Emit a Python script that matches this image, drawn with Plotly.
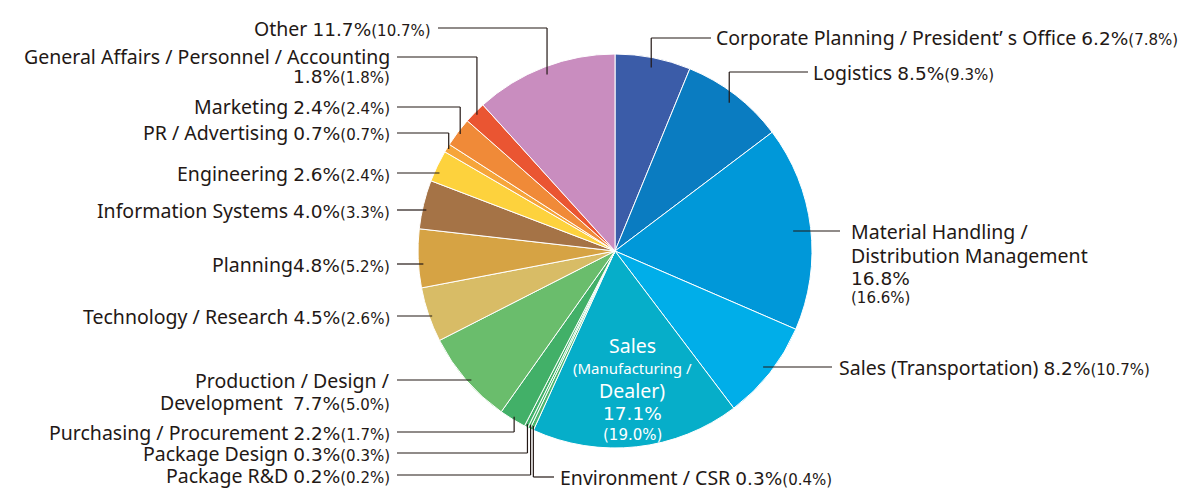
import math
import plotly.graph_objects as go

# ---------------- data ----------------
departments = [
    "Corporate Planning / President’ s Office", "Logistics",
    "Material Handling / Distribution Management", "Sales (Transportation)",
    "Sales (Manufacturing / Dealer)", "Environment / CSR", "Package R&D",
    "Package Design", "Purchasing / Procurement",
    "Production / Design / Development", "Technology / Research", "Planning",
    "Information Systems", "Engineering", "PR / Advertising", "Marketing",
    "General Affairs / Personnel / Accounting", "Other",
]
share_current = [6.2, 8.5, 16.8, 8.2, 17.1, 0.3, 0.2, 0.3, 2.2, 7.7, 4.5, 4.8,
                 4.0, 2.6, 0.7, 2.4, 1.8, 11.7]
share_previous = [7.8, 9.3, 16.6, 10.7, 19.0, 0.4, 0.2, 0.3, 1.7, 5.0, 2.6, 5.2,
                  3.3, 2.4, 0.7, 2.4, 1.8, 10.7]

# ---------------- style / layout ----------------
colors = ["#3b5ca8", "#0a7cc1", "#0098d9", "#00aee9", "#06aec9", "#4bb66d",
          "#45b36a", "#3fb068", "#42b068", "#6abd6c", "#d8bc66", "#d6a344",
          "#a57346", "#fdd23d", "#f6a53a", "#f08a38", "#ea5532", "#c98dbf"]

# the page body has an 8px margin: figure is drawn 8px in from the window corner
OFF = 8
WIN_W, WIN_H = 1200, 498
W, H = WIN_W - OFF, WIN_H - OFF
CX, CY, R = 615, 251, 197          # in window pixels
TXT = "#231815"
FONT = "Noto Sans"
NUMFONT = "DejaVu Sans"
MAIN = 19.5
NUM = 18.5
SMALL = 15

# label templates: {v} current share, {p} previous share (small, in parentheses)
templates = [
    ["Corporate Planning / President’ s Office {v}{p}"],
    ["Logistics {v}{p}"],
    ["Material Handling /", "Distribution Management", "{v}", "{p}"],
    ["Sales (Transportation) {v}{p}"],
    ["Sales", "<span style='font-size:15px'>(Manufacturing /</span>", "Dealer)", "{v}", "{p}"],
    ["Environment / CSR {v}{p}"],
    ["Package R&D {v}{p}"],
    ["Package Design {v}{p}"],
    ["Purchasing / Procurement {v}{p}"],
    ["Production / Design /", "Development  {v}{p}"],
    ["Technology / Research {v}{p}"],
    ["Planning{v}{p}"],
    ["Information Systems {v}{p}"],
    ["Engineering {v}{p}"],
    ["PR / Advertising {v}{p}"],
    ["Marketing {v}{p}"],
    ["General Affairs / Personnel / Accounting", "{v}{p}"],
    ["Other {v}{p}"],
]

# placement (window pixels): text x, line ys, text anchor, leader kind, radius fraction, line end x
placement = [
    dict(x=714, ys=[38], anchor="left", kind="elbow", rf=0.95, lx=711),
    dict(x=811, ys=[72], anchor="left", kind="elbow", rf=0.95, lx=808),
    dict(x=849, ys=[231, 255, 278, 298], anchor="left", kind="h", rf=0.91, lx=840),
    dict(x=837, ys=[367], anchor="left", kind="h", rf=0.955, lx=832),
    dict(x=632, ys=[345, 368, 390, 413, 435], anchor="center", kind=None, rf=0, lx=0),
    dict(x=558, ys=[477], anchor="left", kind="elbow", rf=0.98, lx=554),
    dict(x=392, ys=[475], anchor="right", kind="elbow", rf=0.98, lx=397),
    dict(x=392, ys=[453], anchor="right", kind="elbow", rf=0.985, lx=397),
    dict(x=392, ys=[432], anchor="right", kind="elbow", rf=0.985, lx=397),
    dict(x=392, ys=[380, 402], anchor="right", kind="h", rf=0.98, lx=397),
    dict(x=392, ys=[316], anchor="right", kind="h", rf=0.985, lx=397),
    dict(x=392, ys=[264], anchor="right", kind="h", rf=0.975, lx=397),
    dict(x=392, ys=[210], anchor="right", kind="h", rf=0.98, lx=397),
    dict(x=392, ys=[173], anchor="right", kind="h", rf=0.975, lx=397),
    dict(x=392, ys=[133], anchor="right", kind="elbow", rf=0.99, lx=397),
    dict(x=392, ys=[107], anchor="right", kind="elbow", rf=0.985, lx=397),
    dict(x=392, ys=[57, 76], anchor="right", kind="elbow", rf=0.985, lx=397),
    dict(x=433, ys=[28], anchor="right", kind="elbow", rf=0.96, lx=438),
]


def px(x):
    return (x - OFF) / W


def py(y):
    return 1 - (y - OFF) / H


fig = go.Figure()
fig.add_trace(go.Pie(
    labels=departments, values=share_current, sort=False,
    direction="clockwise", rotation=0,
    marker=dict(colors=colors, line=dict(color="white", width=1)),
    textinfo="none", hoverinfo="label+value", showlegend=False,
    domain=dict(x=[px(CX - R), px(CX + R)], y=[py(CY + R), py(CY - R)]),
))

total = sum(share_current)
annotations = []
shapes = []
cum = 0.0
for i, (v, p) in enumerate(zip(share_current, share_previous)):
    mid = (cum + v / 2) / total * 2 * math.pi
    cum += v
    pl = placement[i]
    is_inside = pl["kind"] is None
    fcol = "white" if is_inside else TXT
    vtxt = f"<span style='font-family:{NUMFONT};font-size:{NUM}px'>{v:.1f}%</span>"
    ptxt = f"<span style='font-family:{NUMFONT};font-size:{SMALL}px'>({p:.1f}%)</span>"
    for line, y in zip(templates[i], pl["ys"]):
        t = line.replace("{v}", vtxt).replace("{p}", ptxt)
        annotations.append(dict(
            x=px(pl["x"]), y=py(y), xref="paper", yref="paper", text=t,
            showarrow=False, xanchor=pl["anchor"], yanchor="middle",
            font=dict(family=FONT, size=MAIN, color=fcol)))
    ly = pl["ys"][0]
    line_style = dict(color=TXT, width=1.2)
    if pl["kind"] == "elbow":
        r = pl["rf"] * R
        ax = CX + r * math.sin(mid)
        ay = CY - r * math.cos(mid)
        shapes.append(dict(type="line", xref="paper", yref="paper",
                           x0=px(ax), y0=py(ay), x1=px(ax), y1=py(ly), line=line_style))
        shapes.append(dict(type="line", xref="paper", yref="paper",
                           x0=px(ax), y0=py(ly), x1=px(pl["lx"]), y1=py(ly), line=line_style))
    elif pl["kind"] == "h":
        r = pl["rf"] * R
        dx = math.sqrt(max(r * r - (ly - CY) ** 2, 0))
        ax = CX + dx if pl["anchor"] == "left" else CX - dx
        shapes.append(dict(type="line", xref="paper", yref="paper",
                           x0=px(ax), y0=py(ly), x1=px(pl["lx"]), y1=py(ly), line=line_style))

fig.update_layout(
    width=W, height=H, margin=dict(l=0, r=0, t=0, b=0),
    paper_bgcolor="white", plot_bgcolor="white",
    annotations=annotations, shapes=shapes,
    font=dict(family=FONT, color=TXT),
)
fig.write_html("out.html")
